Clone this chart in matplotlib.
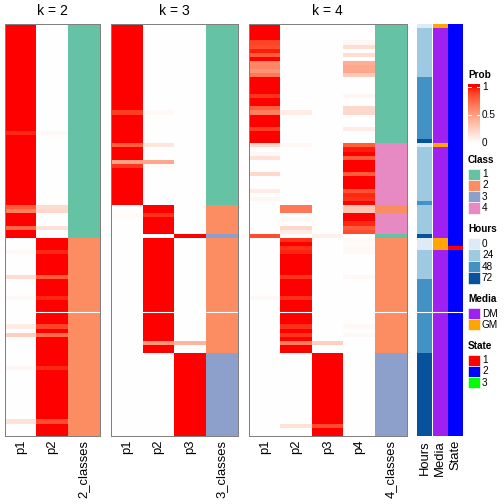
import numpy as np
import matplotlib
matplotlib.use("Agg")
import matplotlib.pyplot as plt
from matplotlib.colors import ListedColormap
from matplotlib.patches import Rectangle

plt.rcParams['font.family'] = ['Liberation Sans', 'DejaVu Sans']

# ---------------- data ----------------
hours = [0, 24, 24, 24, 24, 24, 24, 24, 24, 24,
         24, 24, 24, 48, 48, 48, 48, 48, 48, 48,
         48, 48, 48, 48, 48, 48, 48, 48, 72, 0,
         24, 24, 24, 24, 24, 24, 24, 24, 24, 24,
         24, 24, 24, 48, 24, 24, 24, 24, 24, 24,
         24, 72, 0, 0, 0, 24, 24, 24, 24, 24,
         24, 24, 48, 48, 48, 48, 48, 48, 48, 48,
         48, 48, 48, 48, 48, 48, 48, 48, 48, 48,
         72, 72, 72, 72, 72, 72, 72, 72, 72, 72,
         72, 72, 72, 72, 72, 72, 72, 72, 72, 72]
media = (["GM"] + ["DM"] * 28 + ["GM"] + ["DM"] * 22 + ["GM"] * 3 + ["DM"] * 45)
state = [2] * 54 + [1] + [2] * 45

k2_class = [1] * 52 + [2] * 48
k3_class = [1] * 44 + [2] * 7 + [3] + [2] * 28 + [3] * 20
k4_class = [1] * 29 + [4] * 15 + [2] * 2 + [4] * 5 + [1] + [2] * 28 + [3] * 20

k2_p1 = [1, 1, 1, 1, 1, 1, 1, 1, 1, 1,
         1, 1, 1, 1, 1, 1, 1, 1, 1, 1,
         1, 1, 1, 1, 1, 1, 0.95, 1, 1, 1,
         1, 1, 1, 1, 1, 1, 1, 1, 1, 1,
         1, 1, 1, 1, 0.8, 0.65, 1, 1, 1, 0.75,
         1, 1, 0, 0, 0, 0.03, 0, 0, 0, 0,
         0, 0.18, 0, 0, 0, 0, 0.03, 0, 0, 0,
         0, 0, 0, 0.1, 0, 0.25, 0, 0, 0, 0,
         0, 0, 0, 0.04, 0, 0, 0, 0, 0, 0,
         0, 0, 0, 0, 0, 0, 0.15, 0, 0, 0]
k2_p2 = [0, 0, 0, 0, 0, 0, 0, 0, 0, 0,
         0, 0, 0, 0, 0, 0, 0, 0, 0, 0,
         0, 0, 0, 0, 0, 0, 0.03, 0, 0, 0,
         0, 0, 0, 0, 0, 0, 0, 0, 0, 0,
         0, 0, 0, 0, 0.18, 0.2, 0, 0, 0, 0.15,
         0, 0, 1, 1, 1, 0.95, 1, 1, 1, 1,
         1, 0.8, 1, 1, 1, 1, 0.95, 1, 1, 1,
         1, 1, 1, 0.88, 1, 0.72, 1, 1, 1, 1,
         1, 1, 1, 0.95, 1, 1, 1, 1, 1, 1,
         1, 1, 1, 1, 1, 1, 0.85, 1, 1, 1]

k3_p1 = [1, 1, 1, 1, 1, 1, 1, 1, 1, 1,
         1, 1, 1, 1, 1, 1, 1, 1, 1, 1,
         1, 0.9, 1, 1, 1, 1, 1, 1, 1, 0.78,
         1, 1, 1, 0.47, 0.92, 1, 1, 1, 1, 1,
         1, 1, 1, 1, 0, 0, 0.02, 0, 0, 0,
         0, 0, 0, 0, 0, 0, 0, 0, 0, 0,
         0, 0, 0, 0, 0, 0, 0, 0, 0, 0,
         0, 0, 0, 0, 0, 0, 0, 0, 0, 0,
         0, 0, 0, 0, 0, 0, 0, 0, 0, 0,
         0, 0, 0, 0, 0, 0, 0, 0, 0, 0]
k3_p2 = [0, 0, 0, 0, 0, 0, 0, 0, 0, 0,
         0, 0, 0, 0, 0, 0, 0, 0, 0, 0,
         0, 0.03, 0, 0, 0, 0, 0, 0, 0, 0.13,
         0, 0, 0, 0.45, 0.03, 0, 0, 0, 0, 0,
         0, 0, 0, 0, 1, 1, 0.93, 1, 1, 1,
         1, 0, 1, 1, 1, 1, 1, 1, 1, 1,
         1, 1, 1, 1, 1, 1, 1, 1, 1, 1,
         1, 1, 1, 1, 1, 1, 1, 0.55, 1, 1,
         0, 0, 0, 0, 0, 0, 0, 0, 0, 0,
         0, 0, 0, 0, 0, 0, 0, 0, 0, 0]
k3_p3 = [0, 0, 0, 0, 0, 0, 0, 0, 0, 0,
         0, 0, 0, 0, 0, 0, 0, 0, 0, 0,
         0, 0, 0, 0, 0, 0, 0, 0, 0, 0,
         0, 0, 0, 0, 0, 0, 0, 0, 0, 0,
         0, 0, 0, 0, 0, 0, 0, 0, 0, 0,
         0, 1, 0, 0, 0, 0, 0, 0, 0, 0,
         0, 0, 0, 0, 0, 0, 0, 0, 0, 0,
         0, 0, 0, 0, 0, 0, 0, 0.38, 0, 0,
         1, 1, 1, 1, 1, 1, 1, 1, 1, 1,
         1, 1, 1, 1, 1, 1, 1, 1, 1, 1]

k4_p1 = [1, 1, 1, 1, 0.88, 0.85, 0.97, 0.8, 1, 0.6,
         0.62, 0.55, 0.68, 1, 1, 1, 1, 0.92, 1, 1,
         0.78, 0.65, 1, 1, 1, 0.9, 1, 1, 1, 0.2,
         0, 0.03, 0.15, 0, 0, 0, 0.2, 0, 0, 0,
         0.1, 0, 0.05, 0, 0, 0, 0, 0, 0, 0,
         0, 0.85, 0, 0, 0, 0, 0, 0, 0, 0,
         0, 0, 0, 0, 0, 0, 0.03, 0, 0, 0,
         0, 0, 0, 0, 0, 0, 0, 0, 0, 0,
         0, 0, 0, 0, 0, 0, 0, 0, 0, 0,
         0, 0, 0, 0, 0, 0, 0, 0, 0, 0]
k4_p2 = [0, 0, 0, 0, 0, 0, 0, 0, 0, 0,
         0, 0, 0, 0, 0, 0, 0, 0, 0, 0,
         0, 0.1, 0, 0, 0, 0, 0, 0, 0, 0.04,
         0, 0, 0, 0, 0, 0, 0, 0, 0, 0,
         0, 0, 0, 0, 0.68, 0.68, 0, 0.03, 0, 0.2,
         0.1, 0, 0.93, 1, 0.93, 0.96, 1, 1, 1, 1,
         1, 0.92, 1, 1, 1, 1, 0.93, 1, 1, 1,
         1, 1, 1, 0.93, 1, 0.92, 1, 0.66, 1, 1,
         0, 0, 0, 0, 0, 0, 0, 0, 0, 0,
         0, 0, 0, 0, 0, 0, 0, 0.15, 0, 0]
k4_p3 = [0, 0, 0, 0, 0, 0, 0, 0, 0, 0,
         0, 0, 0, 0, 0, 0, 0, 0, 0, 0,
         0, 0, 0, 0, 0, 0, 0, 0, 0, 0,
         0, 0, 0, 0, 0, 0, 0, 0, 0, 0,
         0, 0, 0, 0, 0, 0, 0, 0, 0, 0,
         0, 0.08, 0, 0, 0, 0, 0, 0, 0, 0,
         0, 0, 0, 0, 0, 0, 0, 0, 0, 0,
         0, 0, 0, 0, 0, 0, 0, 0.25, 0, 0,
         1, 1, 1, 1, 1, 1, 1, 1, 1, 1,
         1, 1, 1, 1, 1, 1, 1, 0.85, 1, 1]
k4_p4 = [0, 0, 0, 0, 0.04, 0.17, 0, 0.17, 0, 0.42,
         0.45, 0.45, 0.28, 0, 0, 0, 0, 0.05, 0, 0,
         0.2, 0.2, 0, 0, 0, 0.1, 0, 0, 0, 0.78,
         0.97, 1, 0.8, 1, 1, 1, 0.8, 1, 1, 1,
         0.83, 0.95, 0.93, 1, 0.3, 0.3, 1, 1, 0.95, 0.8,
         0.85, 0, 0.03, 0.02, 0.03, 0.03, 0, 0, 0, 0,
         0, 0.04, 0, 0, 0, 0, 0, 0, 0, 0,
         0, 0, 0, 0.03, 0, 0.03, 0, 0, 0, 0,
         0, 0, 0, 0, 0, 0, 0, 0, 0, 0,
         0, 0, 0, 0, 0, 0, 0, 0, 0, 0]

class_colors = ["#66C2A5", "#FC8D62", "#8DA0CB", "#E78AC3"]
hour_levels = [0, 24, 48, 72]
hour_colors = ["#DEEBF7", "#9ECAE1", "#4292C6", "#08519C"]
media_levels = ["DM", "GM"]
media_colors = ["#A020F0", "#FFA500"]
state_levels = [1, 2, 3]
state_colors = ["#FF0000", "#0000FF", "#00FF00"]


# ---------------- white -> red colour ramp interpolated in LAB ----------------
def srgb_to_lab(c):
    c = np.asarray(c, float)
    lin = np.where(c <= 0.04045, c / 12.92, ((c + 0.055) / 1.055) ** 2.4)
    M = np.array([[0.4124, 0.3576, 0.1805], [0.2126, 0.7152, 0.0722], [0.0193, 0.1192, 0.9505]])
    xyz = M @ lin / np.array([0.95047, 1.0, 1.08883])
    f = np.where(xyz > 0.008856, np.cbrt(xyz), 7.787 * xyz + 16 / 116)
    return np.array([116 * f[1] - 16, 500 * (f[0] - f[1]), 200 * (f[1] - f[2])])


def lab_to_srgb(lab):
    L, a, b = lab
    fy = (L + 16) / 116
    fx = fy + a / 500
    fz = fy - b / 200
    f = np.array([fx, fy, fz])
    xyz = np.where(f ** 3 > 0.008856, f ** 3, (f - 16 / 116) / 7.787) * np.array([0.95047, 1.0, 1.08883])
    Minv = np.array([[3.2406, -1.5372, -0.4986], [-0.9689, 1.8758, 0.0415], [0.0557, -0.2040, 1.0570]])
    lin = np.clip(Minv @ xyz, 0, 1)
    s = np.where(lin <= 0.0031308, 12.92 * lin, 1.055 * lin ** (1 / 2.4) - 0.055)
    return np.clip(s, 0, 1)


lw_ = srgb_to_lab([1, 1, 1])
lr_ = srgb_to_lab([1, 0, 0])
prob_cmap = ListedColormap([lab_to_srgb(lw_ + t * (lr_ - lw_)) for t in np.linspace(0, 1, 256)])
class_cmap = ListedColormap(class_colors)

# ---------------- figure ----------------
W = H = 504
fig = plt.figure(figsize=(W / 72, H / 72), dpi=72)
TOP = 70
GAP = 0.25
TOT = len(hours) + GAP
Y0, Y1 = 24, 436


def px_axes(x0, y0, x1, y1):
    return fig.add_axes([x0 / W, 1 - y1 / H, (x1 - x0) / W, (y1 - y0) / H])


def draw_block(ax, M, x0, x1, cmap, vmin, vmax):
    M = np.asarray(M, float)
    if M.ndim == 1:
        M = M[:, None]
    kw = dict(cmap=cmap, vmin=vmin, vmax=vmax, aspect='auto', interpolation='nearest')
    ax.imshow(M[:TOP], extent=(x0, x1, TOP, 0), **kw)
    ax.imshow(M[TOP:], extent=(x0, x1, TOT, TOP + GAP), **kw)


panels = [
    ("k = 2", 5, 99.5, [k2_p1, k2_p2], k2_class),
    ("k = 3", 111, 237.5, [k3_p1, k3_p2, k3_p3], k3_class),
    ("k = 4", 249, 406.5, [k4_p1, k4_p2, k4_p3, k4_p4], k4_class),
]

ov = fig.add_axes([0, 0, 1, 1], zorder=5)
ov.set_xlim(0, W)
ov.set_ylim(H, 0)
ov.set_axis_off()
ov.patch.set_alpha(0)

for title, x0, x1, probs, cls in panels:
    k = len(probs)
    ax = px_axes(x0, Y0, x1, Y1)
    P = np.column_stack(probs)
    draw_block(ax, P, 0, k, prob_cmap, 0, 1)
    draw_block(ax, cls, k, k + 1, class_cmap, 0.5, 4.5)
    ax.axhline(TOP + GAP / 2, color='white', lw=1.1)
    ax.set_xlim(0, k + 1)
    ax.set_ylim(TOT, 0)
    ax.set_xticks([])
    ax.set_yticks([])
    for sp in ax.spines.values():
        sp.set_color('#808080')
        sp.set_linewidth(1.0)
    cw = (x1 - x0) / (k + 1)
    labels = [f"p{i + 1}" for i in range(k)] + [f"{k}_classes"]
    for i, lab in enumerate(labels):
        ov.text(x0 + cw * (i + 0.5), 440, lab, rotation=90, ha='center', va='top', fontsize=13)
    ov.text((x0 + x1) / 2, 15, title, ha='center', va='baseline', fontsize=14)

# annotation columns
aa = px_axes(417, Y0, 463, Y1)
h_idx = [hour_levels.index(h) for h in hours]
m_idx = [media_levels.index(m) for m in media]
s_idx = [state_levels.index(s) for s in state]
draw_block(aa, h_idx, 417.3, 432, ListedColormap(hour_colors), -0.5, 3.5)
draw_block(aa, m_idx, 433, 447.3, ListedColormap(media_colors), -0.5, 1.5)
draw_block(aa, s_idx, 448.3, 462.7, ListedColormap(state_colors), -0.5, 2.5)
aa.axhline(TOP + GAP / 2, color='white', lw=1.1)
aa.set_xlim(417, 463)
aa.set_ylim(TOT, 0)
aa.set_axis_off()
for lab, xc in [("Hours", 424.6), ("Media", 440.2), ("State", 455.5)]:
    ov.text(xc, 440, lab, rotation=90, ha='center', va='top', fontsize=13)

# ---------------- legends ----------------
LX = 468
BW = 11.5
ov.text(LX, 75.5, "Prob", fontsize=10, fontweight='bold', va='center', ha='left')
ys = np.linspace(84, 145, 200)
vals = np.clip((142.7 - ys) / 56.0, 0, 1)
ov.imshow(vals[:, None], extent=(LX, LX + BW, 145, 84), cmap=prob_cmap, vmin=0, vmax=1,
          aspect='auto', interpolation='bilinear')
for v, lab in [(1, "1"), (0.5, "0.5"), (0, "0")]:
    yy = 142.7 - v * 56.0
    if v > 0:
        ov.plot([LX, LX + 2.5], [yy, yy], color='white', lw=1)
        ov.plot([LX + BW - 2.5, LX + BW], [yy, yy], color='white', lw=1)
    ov.text(LX + BW + 2.5, yy, lab, fontsize=10, va='center', ha='left')


def disc_legend(title, ty, labels, colors, y_start, h):
    ov.text(LX, ty, title, fontsize=10, fontweight='bold', va='center', ha='left')
    for i, (lab, col) in enumerate(zip(labels, colors)):
        yy = y_start + i * h
        ov.add_patch(Rectangle((LX, yy), BW, h, facecolor=col, edgecolor='white', lw=0.6))
        ov.text(LX + BW + 2.5, yy + h / 2, lab, fontsize=10, va='center', ha='left')


disc_legend("Class", 160, ["1", "2", "3", "4"], class_colors, 168.5, 11.3)
disc_legend("Hours", 229, [str(h) for h in hour_levels], hour_colors, 238, 11.4)
disc_legend("Media", 299, media_levels, media_colors, 308, 11.2)
disc_legend("State", 346, [str(s) for s in state_levels], state_colors, 354.5, 11.3)

ov.set_xlim(0, W)
ov.set_ylim(H, 0)

fig.savefig("out.png", dpi=72)
